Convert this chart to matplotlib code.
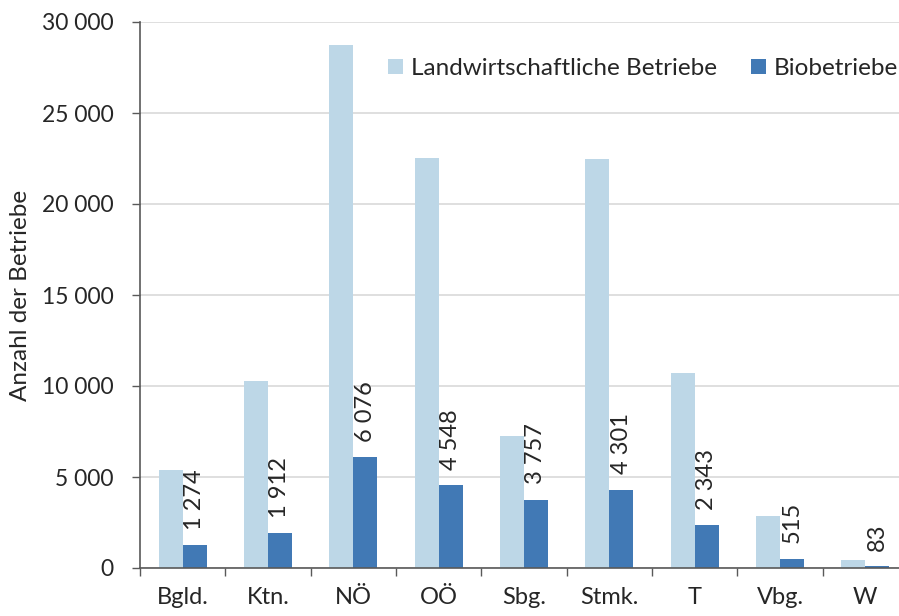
import matplotlib.pyplot as plt
from matplotlib.ticker import FuncFormatter, FixedLocator
import numpy as np

# Betriebe je Bundesland
laender = ["Bgld.", "Ktn.", "NÖ", "OÖ", "Sbg.", "Stmk.", "T", "Vbg.", "W"]
betriebe = [5400, 10300, 28750, 22550, 7250, 22450, 10700, 2850, 450]
bio = [1274, 1912, 6076, 4548, 3757, 4301, 2343, 515, 83]

hell = "#BDD7E7"
dunkel = "#4179B5"
textfarbe = "#262626"

plt.rcParams['font.family'] = ['Lato', 'DejaVu Sans']

def tausender(v, pos=None):
    return format(int(v), ",").replace(",", " ")

fig = plt.figure(figsize=(8.99, 6.16), dpi=100)
ax = fig.add_axes([140/899, 1-568/616, 768/899, 546/616])

x = np.arange(len(laender))
w = 0.28
ax.bar(x - w/2, betriebe, w, color=hell, label="Landwirtschaftliche Betriebe", zorder=2)
ax.bar(x + w/2, bio, w, color=dunkel, label="Biobetriebe", zorder=2)

for xi, v in zip(x, bio):
    ax.annotate(tausender(v), (xi + w/2, v), xytext=(0, 11), textcoords="offset points",
                rotation=90, ha="center", va="bottom", fontsize=17, color=textfarbe)

ax.set_xlim(-0.5, len(laender) - 0.5)
ax.set_ylim(0, 30000)
ax.set_yticks(range(0, 30001, 5000))
ax.yaxis.set_major_formatter(FuncFormatter(tausender))
ax.grid(axis="y", color="#D9D9D9", linewidth=1.2, zorder=0)
ax.set_axisbelow(True)

# Striche an den Grenzen, Beschriftung in der Mitte
ax.xaxis.set_major_locator(FixedLocator(np.arange(-0.5, len(laender), 1.0)))
ax.xaxis.set_major_formatter(FuncFormatter(lambda v, p: ""))
ax.xaxis.set_minor_locator(FixedLocator(x))
ax.set_xticklabels(laender, minor=True)
ax.tick_params(axis="x", which="major", length=6, width=1, color="#595959", direction="out")
ax.tick_params(axis="x", which="minor", length=0, pad=14, labelsize=17, labelcolor=textfarbe)
ax.tick_params(axis="y", length=6, width=1, color="#595959", pad=13, labelsize=16.5, labelcolor=textfarbe)

for s in ["top", "right"]:
    ax.spines[s].set_visible(False)
for s in ["left", "bottom"]:
    ax.spines[s].set_color("#595959")
    ax.spines[s].set_linewidth(1.2)

ax.set_ylabel("Anzahl der Betriebe", fontsize=17.5, color=textfarbe, labelpad=8)

fig.legend(loc="upper left", bbox_to_anchor=(388/899, 1-58/616), ncol=2, frameon=False,
           fontsize=17.5, handlelength=0.6, handleheight=0.6, handletextpad=0.35,
           columnspacing=1.4, borderpad=0, borderaxespad=0, labelcolor=textfarbe)

fig.savefig("out.png", dpi=100)
